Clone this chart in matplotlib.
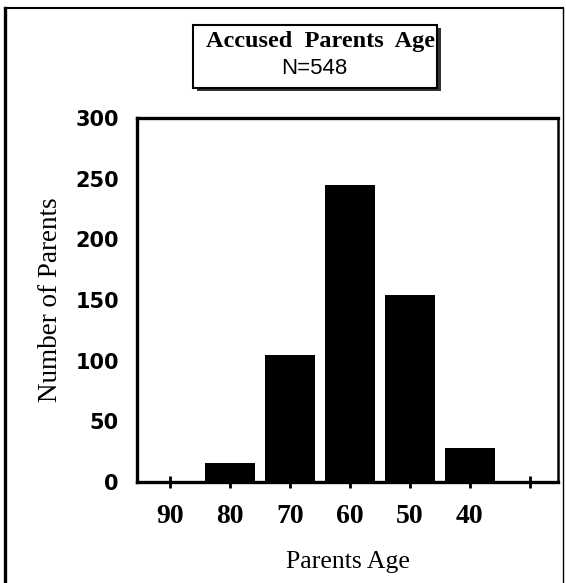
import matplotlib.pyplot as plt
from matplotlib.lines import Line2D
from matplotlib.patches import Rectangle

# values
ages = ['90', '80', '70', '60', '50', '40']
counts = [1, 16, 105, 245, 154, 28]
tick_labels = ages + ['']
yticks = [0, 50, 100, 150, 200, 250, 300]

W, H = 566, 583
fig = plt.figure(figsize=(W / 100, H / 100), dpi=100)

def fx(px):
    return px / W

def fy(py):
    return 1 - py / H

ax = fig.add_axes([fx(137), fy(482), fx(558) - fx(137), fy(118) - fy(482)])
ax.bar(range(len(ages)), counts, width=0.83, color='black')

ax.set_xlim(-0.55, 6.47)
ax.set_ylim(0, 300)
ax.set_xticks(range(len(tick_labels)))
ax.set_xticklabels(tick_labels, family='Liberation Serif', fontweight='bold', fontsize=20)
ax.set_yticks(yticks)
ax.set_yticklabels([str(v) for v in yticks], family='DejaVu Sans', fontweight='bold', fontsize=15)
ax.tick_params(axis='x', direction='inout', length=8, width=2, pad=12)
ax.tick_params(axis='y', length=0, pad=13)

for s in ['left', 'top', 'bottom']:
    ax.spines[s].set_linewidth(2.4)
ax.spines['right'].set_linewidth(1.8)

ax.set_ylabel('Number of Parents', family='Liberation Serif', fontsize=19.5, labelpad=9)
ax.set_xlabel('Parents Age', family='Liberation Serif', fontsize=18.5, labelpad=16)

# outer frame
fig.add_artist(Line2D([fx(5), fx(5)], [fy(8), 0], color='black', lw=2.4, transform=fig.transFigure))
fig.add_artist(Line2D([fx(5), fx(563)], [fy(8), fy(8)], color='black', lw=1.5, transform=fig.transFigure))
fig.add_artist(Line2D([fx(563), fx(563)], [fy(8), 0], color='black', lw=1.0, transform=fig.transFigure))

# title box with shadow
fig.add_artist(Rectangle((fx(197), fy(91)), fx(437) - fx(193), fy(25) - fy(88),
                         transform=fig.transFigure, facecolor='#333333', edgecolor='none'))
fig.add_artist(Rectangle((fx(193), fy(88)), fx(437) - fx(193), fy(25) - fy(88),
                         transform=fig.transFigure, facecolor='white', edgecolor='black', lw=1.5))
fig.text(fx(321), fy(42), 'Accused  Parents  Age', family='Liberation Serif', fontweight='bold',
         fontsize=17.5, ha='center', va='center')
fig.text(fx(314), fy(68), 'N=548', family='Liberation Sans', fontsize=16, ha='center', va='center')

fig.savefig('out.png', dpi=100)
